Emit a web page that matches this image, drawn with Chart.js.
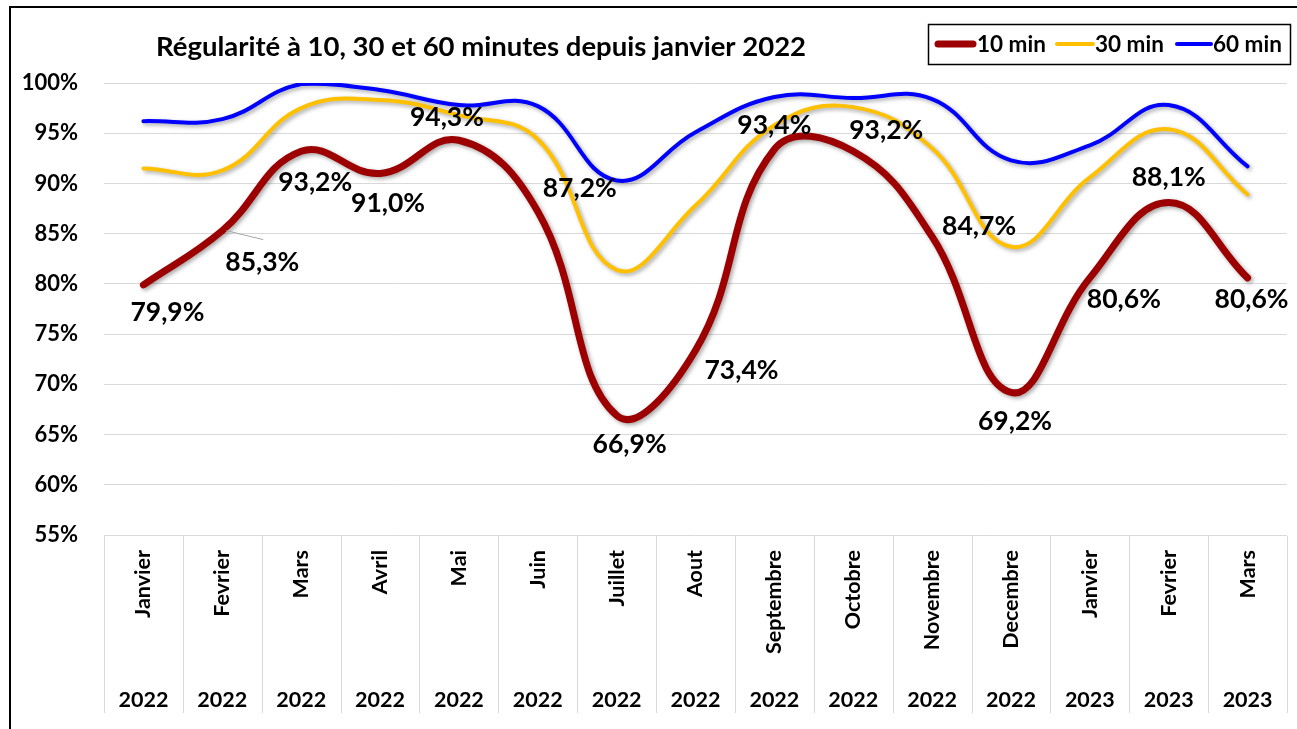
<!DOCTYPE html>
<html>
<head>
<meta charset="utf-8">
<script src="https://cdn.jsdelivr.net/npm/chart.js@4/dist/chart.umd.min.js"></script>
<style>
  html, body { margin: 0; padding: 0; background: #ffffff; }
  #wrap { width: 1297px; height: 729px; position: relative; }
</style>
</head>
<body>
<div id="wrap"><canvas id="c" width="1297" height="729"></canvas></div>
<script>
const months = ['Janvier','Fevrier','Mars','Avril','Mai','Juin','Juillet','Aout','Septembre','Octobre','Novembre','Decembre','Janvier','Fevrier','Mars'];
const years = ['2022','2022','2022','2022','2022','2022','2022','2022','2022','2022','2022','2022','2023','2023','2023'];
const reg10 = [79.9, 85.3, 93.2, 91.0, 94.3, 87.2, 66.9, 73.4, 93.4, 93.2, 84.7, 69.2, 80.6, 88.1, 80.6];
const reg30 = [91.5, 91.3, 97.5, 98.3, 96.8, 94.4, 81.4, 87.8, 95.8, 97.6, 93.5, 83.7, 90.6, 95.4, 88.9];
const reg60 = [96.2, 96.4, 99.9, 99.3, 97.8, 97.7, 90.3, 95.1, 98.6, 98.5, 98.4, 92.3, 93.8, 97.8, 91.7];
const seriesNames = ['10 min', '30 min', '60 min'];
const titleText = 'Régularité à 10, 30 et 60 minutes depuis janvier 2022';

const FONT = 'Lato, "Open Sans", sans-serif';
const colors = ['#9c0000', '#ffc000', '#0000ff'];
const widths = [7, 4, 4];

// per-label offsets (style only) relative to each 10 min point
const labelOffsets = [[24,28],[40,32],[14,31],[8,30],[-12,-23],[42,-23],[13,29],[46,20],[0,-24],[33,-21],[47,-10],[4,29],[34,22],[0,-25],[4,22]];
const fmt = v => v.toFixed(1).replace('.', ',') + '%';

const shadowPlugin = {
  id: 'shadow',
  beforeDatasetDraw(chart) {
    const ctx = chart.ctx;
    ctx.save();
    ctx.shadowColor = 'rgba(0,0,0,0.35)';
    ctx.shadowBlur = 4;
    ctx.shadowOffsetX = 2;
    ctx.shadowOffsetY = 2;
  },
  afterDatasetDraw(chart) { chart.ctx.restore(); }
};

const decorPlugin = {
  id: 'decor',
  afterDraw(chart) {
    const ctx = chart.ctx;
    const xs = chart.scales.x;
    const ca = chart.chartArea;
    ctx.save();
    // category separators below the axis
    ctx.strokeStyle = '#d9d9d9';
    ctx.lineWidth = 1;
    for (let i = 0; i <= months.length; i++) {
      const px = Math.round(xs.getPixelForValue(i - 0.5)) + 0.5;
      ctx.beginPath();
      ctx.moveTo(px, ca.bottom + 1);
      ctx.lineTo(px, 713);
      ctx.stroke();
    }
    // data labels for 10 min series
    const meta = chart.getDatasetMeta(0);
    // leader line for second label
    const p1 = meta.data[1];
    ctx.strokeStyle = '#a6a6a6';
    ctx.lineWidth = 1;
    ctx.beginPath();
    ctx.moveTo(p1.x + 4, p1.y);
    ctx.lineTo(p1.x + 41, p1.y + 9);
    ctx.stroke();
    ctx.fillStyle = '#000';
    ctx.font = 'bold 26.5px ' + FONT;
    ctx.textAlign = 'center';
    ctx.textBaseline = 'middle';
    meta.data.forEach((pt, i) => {
      const o = labelOffsets[i];
      ctx.fillText(fmt(reg10[i]), pt.x + o[0], pt.y + o[1]);
    });
    // title
    ctx.font = 'bold 27.5px ' + FONT;
    ctx.fillText(titleText, 481, 47);
    // legend
    ctx.strokeStyle = '#000';
    ctx.lineWidth = 1.5;
    ctx.strokeRect(928.5, 24.5, 362, 40);
    const entries = [[938, 973, 977], [1057, 1093, 1095], [1177, 1211, 1213]];
    ctx.font = 'bold 22.5px ' + FONT;
    ctx.textAlign = 'left';
    entries.forEach((e, i) => {
      ctx.strokeStyle = colors[i];
      ctx.lineWidth = widths[i];
      ctx.lineCap = 'round';
      ctx.beginPath();
      ctx.moveTo(e[0], 44);
      ctx.lineTo(e[1], 44);
      ctx.stroke();
      ctx.fillStyle = '#000';
      ctx.fillText(seriesNames[i], e[2], 45);
    });
    // outer frame
    ctx.strokeStyle = '#000';
    ctx.lineWidth = 2;
    ctx.lineCap = 'butt';
    ctx.beginPath();
    ctx.moveTo(10, 729);
    ctx.lineTo(10, 7);
    ctx.lineTo(1297, 7);
    ctx.stroke();
    ctx.restore();
  }
};

const mk = (label, data, i) => ({
  label, data,
  borderColor: colors[i],
  backgroundColor: colors[i],
  borderWidth: widths[i],
  borderCapStyle: 'round',
  borderJoinStyle: 'round',
  pointRadius: 0,
  tension: 0.42,
  fill: false,
  xAxisID: 'x'
});

new Chart(document.getElementById('c'), {
  type: 'line',
  data: {
    labels: months,
    datasets: [mk(seriesNames[0], reg10, 0), mk(seriesNames[1], reg30, 1), mk(seriesNames[2], reg60, 2)]
  },
  plugins: [shadowPlugin, decorPlugin],
  options: {
    responsive: false,
    animation: false,
    devicePixelRatio: 1,
    layout: { padding: { top: 83, right: 10, left: 0, bottom: 0 } },
    plugins: { legend: { display: false }, title: { display: false }, tooltip: { enabled: false } },
    scales: {
      x: {
        type: 'category',
        offset: true,
        position: 'bottom',
        grid: { display: false, drawTicks: false },
        border: { display: false },
        ticks: { color: '#000', font: { family: FONT, size: 21.5, weight: 'bold' }, minRotation: 90, maxRotation: 90, padding: 15, autoSkip: false },
        afterFit(s) { s.height = 150; }
      },
      x2: {
        type: 'category',
        labels: years,
        offset: true,
        position: 'bottom',
        grid: { display: false, drawTicks: false },
        border: { display: false },
        ticks: { color: '#000', font: { family: FONT, size: 21.5, weight: 'bold' }, maxRotation: 0, padding: 2, autoSkip: false },
        afterFit(s) { s.height = 44; }
      },
      y: {
        min: 55, max: 100,
        grid: { color: '#d9d9d9', lineWidth: 1, drawTicks: false },
        border: { display: false },
        ticks: { stepSize: 5, color: '#000', padding: 26, font: { family: FONT, size: 22, weight: 'bold' }, callback: v => v + '%' },
        afterFit(s) { s.width = 104; }
      }
    }
  }
});
</script>
</body>
</html>
